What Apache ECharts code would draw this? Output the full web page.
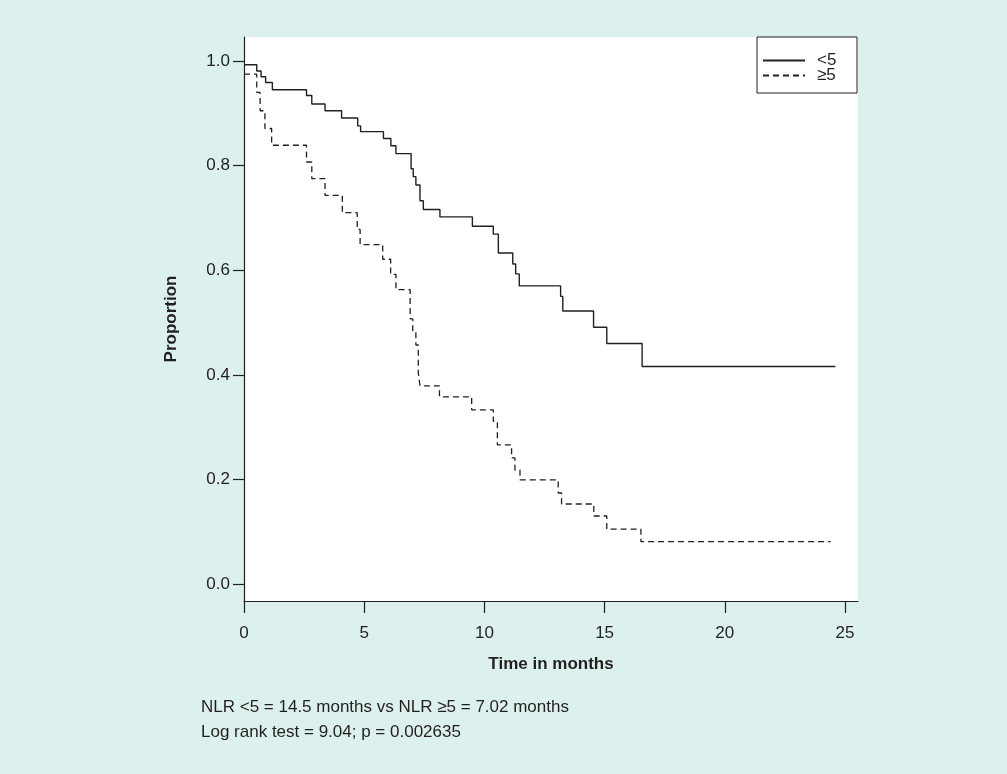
<!DOCTYPE html>
<html>
<head>
<meta charset="utf-8">
<title>Kaplan-Meier NLR</title>
<script src="https://cdn.jsdelivr.net/npm/echarts@6/dist/echarts.min.js"></script>
<style>
	html, body { margin: 0; padding: 0; background: #dcf0ed; }
	#km_chart { width: 1007px; height: 774px; }
</style>
</head>
<body>
<div id="km_chart"></div>
<script>
// NLR <5 group, time (months) / proportion surviving
var lowTimes = [0, 0.53, 0.71, 0.90, 1.18, 2.60, 2.82, 3.37, 4.06, 4.73, 4.85, 5.80, 6.11, 6.32, 6.95, 7.04, 7.15, 7.32, 7.46, 8.15, 9.50, 10.37, 10.58, 11.18, 11.30, 11.45, 13.17, 13.26, 14.54, 15.09, 16.56, 24.6];
var lowSurv = [0.993, 0.981, 0.970, 0.959, 0.945, 0.934, 0.918, 0.905, 0.891, 0.876, 0.865, 0.852, 0.838, 0.823, 0.794, 0.779, 0.763, 0.733, 0.716, 0.702, 0.684, 0.669, 0.633, 0.612, 0.593, 0.570, 0.550, 0.522, 0.491, 0.460, 0.416, 0.416];

// NLR >=5 group
var highTimes = [0, 0.53, 0.67, 0.87, 1.15, 2.60, 2.82, 3.37, 4.09, 4.71, 4.83, 5.77, 6.10, 6.32, 6.91, 7.02, 7.15, 7.25, 7.32, 8.13, 9.47, 10.37, 10.54, 11.13, 11.27, 11.48, 13.07, 13.21, 14.55, 15.09, 16.51, 24.4];
var highSurv = [0.975, 0.940, 0.905, 0.871, 0.839, 0.807, 0.775, 0.743, 0.710, 0.678, 0.649, 0.621, 0.592, 0.563, 0.507, 0.483, 0.457, 0.404, 0.379, 0.358, 0.333, 0.311, 0.266, 0.241, 0.218, 0.199, 0.174, 0.153, 0.130, 0.105, 0.081, 0.081];

var xTicks = [0, 5, 10, 15, 20, 25];
var yTicks = [0, 0.2, 0.4, 0.6, 0.8, 1.0];
var seriesNames = ['<5', '\u22655'];
var noteLines = [
	'NLR <5 = 14.5 months vs NLR \u22655 = 7.02 months',
	'Log rank test = 9.04; p = 0.002635'
];

function toPairs(xs, ys) {
	var out = [];
	for (var i = 0; i < xs.length; i++) {
		out.push([xs[i], ys[i]]);
	}
	return out;
}

var fontFam = '"Liberation Sans", Arial, Helvetica, sans-serif';
var inkColor = '#231f20';

var myChart = echarts.init(document.getElementById('km_chart'), null, { renderer: 'canvas' });

var option = {
	backgroundColor: '#dcf0ed',
	animation: false,
	textStyle: { fontFamily: fontFam },
	grid: {
		left: 244,
		top: 37,
		width: 614,
		height: 564,
		show: true,
		backgroundColor: '#ffffff',
		borderWidth: 0
	},
	legend: {
		data: seriesNames,
		orient: 'vertical',
		left: 757,
		top: 37,
		itemWidth: 42,
		itemHeight: 14,
		itemGap: -2,
		padding: [15, 14, 9, 5],
		borderColor: inkColor,
		borderWidth: 1,
		backgroundColor: '#ffffff',
		// only the line sample, no marker
		itemStyle: { opacity: 0 },
		textStyle: { fontSize: 17, lineHeight: 14, color: inkColor, fontFamily: fontFam, width: 26, padding: [0, 0, 0, 7] }
	},
	xAxis: {
		type: 'value',
		min: 0,
		max: 25.54,
		name: 'Time in months',
		nameLocation: 'middle',
		nameGap: 55,
		nameTextStyle: { fontSize: 17, fontWeight: 'bold', color: inkColor },
		axisLine: { onZero: false, lineStyle: { color: inkColor, width: 1.2 } },
		axisTick: { customValues: xTicks, length: 12, lineStyle: { color: inkColor, width: 1.2 } },
		axisLabel: {
			customValues: xTicks,
			fontSize: 17,
			color: inkColor,
			margin: 24,
			formatter: function (v) { return String(v); }
		},
		splitLine: { show: false }
	},
	yAxis: {
		type: 'value',
		min: -0.0325,
		max: 1.046,
		name: 'Proportion',
		nameLocation: 'middle',
		nameGap: 64,
		nameRotate: 90,
		nameTextStyle: { fontSize: 17, fontWeight: 'bold', color: inkColor },
		axisLine: { show: true, onZero: false, lineStyle: { color: inkColor, width: 1.2 } },
		axisTick: { show: true, customValues: yTicks, length: 11, lineStyle: { color: inkColor, width: 1.2 } },
		axisLabel: {
			customValues: yTicks,
			fontSize: 17,
			color: inkColor,
			margin: 14,
			formatter: function (v) { return v.toFixed(1); }
		},
		splitLine: { show: false }
	},
	graphic: [
		{
			type: 'text',
			left: 201,
			top: 699,
			style: { text: noteLines[0], fontSize: 17, fill: inkColor, fontFamily: fontFam }
		},
		{
			type: 'text',
			left: 201,
			top: 724,
			style: { text: noteLines[1], fontSize: 17, fill: inkColor, fontFamily: fontFam }
		}
	],
	series: [
		{
			name: seriesNames[0],
			type: 'line',
			step: 'end',
			symbol: 'none',
			data: toPairs(lowTimes, lowSurv),
			lineStyle: { color: inkColor, width: 1.4 },
			itemStyle: { color: inkColor }
		},
		{
			name: seriesNames[1],
			type: 'line',
			step: 'end',
			symbol: 'none',
			data: toPairs(highTimes, highSurv),
			lineStyle: { color: inkColor, width: 1.3, type: [6, 4] },
			itemStyle: { color: inkColor }
		}
	]
};

myChart.setOption(option);
</script>
</body>
</html>
